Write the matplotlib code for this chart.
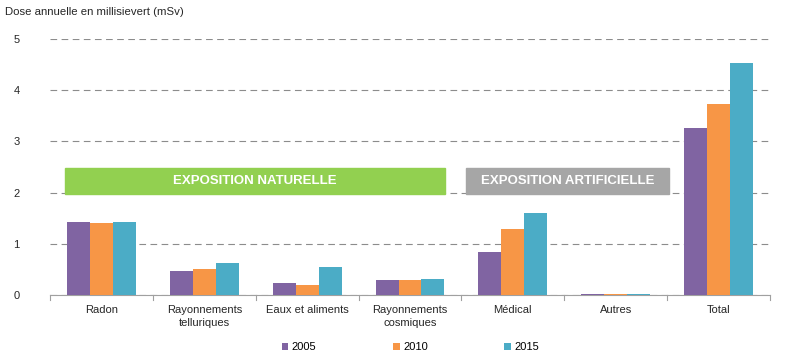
import matplotlib
matplotlib.use("Agg")
import matplotlib.pyplot as plt
from matplotlib.patches import Rectangle
import numpy as np

plt.rcParams['font.family'] = ['Liberation Sans', 'DejaVu Sans']

categories = ["Radon", "Rayonnements\ntelluriques", "Eaux et aliments", "Rayonnements\ncosmiques",
              "Médical", "Autres", "Total"]
years = ["2005", "2010", "2015"]
v2005 = [1.43, 0.47, 0.24, 0.29, 0.84, 0.02, 3.27]
v2010 = [1.41, 0.50, 0.20, 0.30, 1.29, 0.02, 3.73]
v2015 = [1.43, 0.63, 0.55, 0.32, 1.60, 0.02, 4.54]
colors = ["#8064A2", "#F79646", "#4BACC6"]

fig = plt.figure(figsize=(8, 3.55), dpi=100)
ax = fig.add_axes([0.0625, 0.169, 0.9, 0.721])

x = np.arange(len(categories))
w = 0.223
for i, (vals, c, lab) in enumerate(zip([v2005, v2010, v2015], colors, years)):
    ax.bar(x + (i - 1) * w, vals, w, color=c, label=lab, zorder=3)

ax.set_xlim(-0.5, 6.5)
ax.set_ylim(0, 5)
ax.set_yticks([0, 1, 2, 3, 4, 5])
ax.yaxis.grid(True, linestyle=(0, (6, 4)), color="#8c8c8c", linewidth=0.8, zorder=0)
for s in ["top", "right", "left"]:
    ax.spines[s].set_visible(False)
ax.spines["bottom"].set_color("#a0a0a0")
ax.set_xticks(x)
ax.set_xticklabels(categories, fontsize=8, color="#262626", linespacing=1.45)
ax.tick_params(axis="x", length=0, pad=7)
ax.tick_params(axis="y", length=0, labelsize=8, labelcolor="#262626", pad=22)
for b in np.arange(-0.5, 7.0, 1.0):
    ax.plot([b, b], [0, -0.1], color="#a0a0a0", lw=0.8, clip_on=False, zorder=4)

# Banners
ax.add_patch(Rectangle((-0.354, 1.97), 3.699, 0.51, color="#92D050", zorder=5))
ax.text((-0.354 + 3.345) / 2, 2.225, "EXPOSITION NATURELLE", color="white", fontsize=9.5,
        fontweight="bold", ha="center", va="center", zorder=6)
ax.add_patch(Rectangle((3.549, 1.97), 1.971, 0.51, color="#A6A6A6", zorder=5))
ax.text((3.549 + 5.52) / 2, 2.225, "EXPOSITION ARTIFICIELLE", color="white", fontsize=9.5,
        fontweight="bold", ha="center", va="center", zorder=6)

fig.text(0.006, 0.965, "Dose annuelle en millisievert (mSv)", fontsize=8.2, color="#262626",
         ha="left", va="center")

leg = fig.legend(loc="center", bbox_to_anchor=(0.513, 0.022), ncol=3, frameon=False,
                 fontsize=8, handlelength=0.6, handleheight=0.6, columnspacing=6.9,
                 handletextpad=0.3, borderpad=0)

fig.savefig("out.png", dpi=100)
